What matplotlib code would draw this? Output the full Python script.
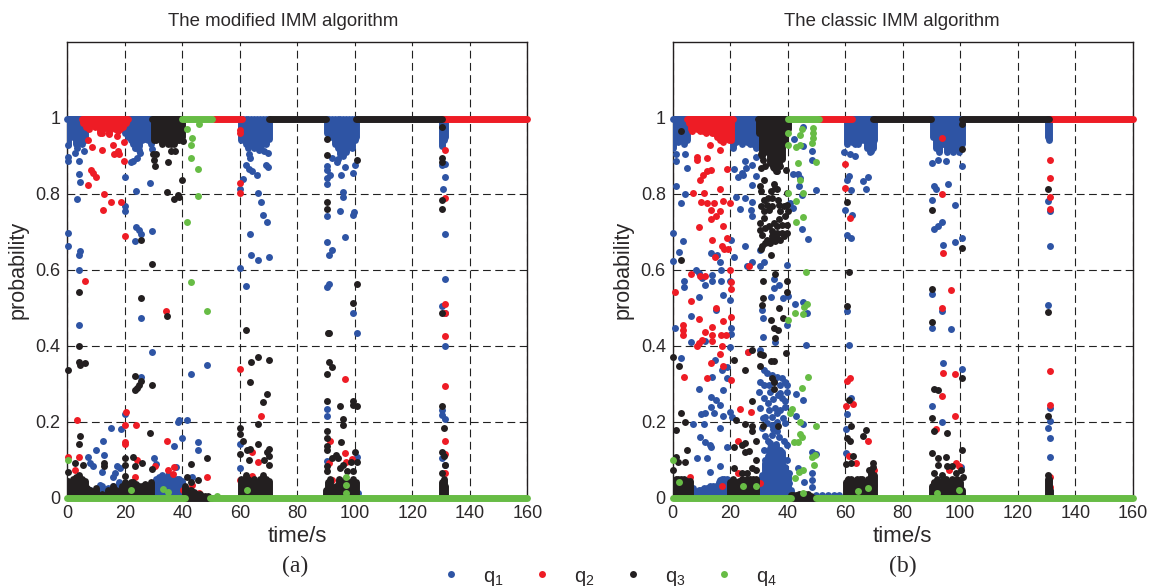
import matplotlib
matplotlib.use("Agg")
import matplotlib.pyplot as plt
from matplotlib.lines import Line2D
import numpy as np

plt.rcParams['font.family'] = ['Liberation Sans', 'DejaVu Sans']
plt.rcParams['mathtext.default'] = 'regular'

BLUE = '#2E54A4'
RED = '#EE1C25'
BLACK = '#231F20'
GREEN = '#67BC45'
TEXT = '#2B2829'

# scattered points (time, probability)
# panel (a)
a_q1 = [(.2,.929),(.2,.896),(.2,.887),(2.7,.907),(3.5,.92),(5.8,.911),(4,.887),(4,.852),(4.4,.831),(3.5,.785),
        (.2,.696),(.2,.661),(4.4,.648),(4,.638),(4,.598),(20.2,.845),(20.2,.768),(20.2,.754),(24,.806),(28.6,.827),
        (24,.711),(24.9,.703),(25.8,.694),(23.5,.676),(29.5,.701),(22,.883),(23,.887),(24.2,.894),(25.3,.907),
        (23.6,.92),(24.8,.916),(29.5,.918),(60.2,.813),(61.2,.838),(62.1,.876),(63.1,.866),(64.3,.859),(66,.848),
        (63.7,.894),(63.1,.903),(66.6,.916),(68.4,.911),(69.9,.907),(69,.876),(69.9,.869),(66.3,.802),(67.2,.777),
        (68.1,.743),(69.5,.725),(63.5,.694),(64,.638),(66.3,.626),(70,.633),(60.2,.605),(62.1,.556),
        (4,.454),(25.8,.472),(29.5,.382),(25.8,.318),(43,.325),(48.6,.349),(20.2,.219),(15.1,.184),(18.8,.181),
        (12.3,.149),(10,.125),(7.2,.107),(12.8,.111),(7.9,.09),(9.1,.083),(11.9,.068),(30,.104),(30.9,.089),
        (37,.136),(39.8,.156),(38.8,.204),(38.4,.198),(41.6,.205),(45.3,.146),(45.3,.125),(37.9,.08),(17.4,.083),
        (18.4,.077),(16.6,.064),(16,.055),(11.4,.033),(43.3,.055),(60.2,.142),(60.2,.079),
        (90.5,.824),(91.4,.848),(90.5,.841),(90.5,.861),(90.5,.872),(95.1,.848),(96.5,.869),(99.3,.854),(100.1,.876),
        (91.9,.894),(93.7,.883),(94.2,.89),(96,.803),(96,.791),(99.3,.743),(99.8,.752),(94.7,.754),(90.5,.742),
        (96.5,.686),(90.5,.672),(91.9,.651),(91,.638),(91,.563),(90.5,.553),(131.2,.844),(130.8,.812),(131.2,.693),
        (131.2,.574),(130.4,.504),(131.2,.879),(130.4,.875),(99.3,.487),(100.7,.434),(90.5,.234),(90.5,.216),
        (90.5,.097),(100.9,.108),(131.4,.399),(130.5,.231),(130.5,.217),(131.2,.206),(130.5,.104),(131.2,.086),
        (131.2,.487),(101,.013)]
a_q2 = [(7.3,.942),(8.5,.922),(12,.914),(16,.929),(19.8,.935),(17.2,.951),(12,.96),(14.5,.957),(17.8,.911),
        (16.4,.904),(18.1,.903),(19.8,.887),(8.1,.861),(9.1,.853),(10,.844),(7.2,.823),(12.8,.798),(15.1,.777),
        (18.8,.777),(12.3,.756),(20.2,.689),(6.3,.57),(60.2,.968),(60.2,.96),(60.2,.828),(60.2,.802),(34.4,.49),
        (.2,.108),(3.5,.205),(4,.107),(20.5,.226),(20.2,.191),(20.2,.147),(20.2,.14),(24,.191),(24.4,.099),
        (34.7,.149),(23.5,.055),(30.5,.083),(37,.08),(36.7,.062),(35.1,.073),(48.6,.055),(60.2,.339),(67.2,.216),
        (64.4,.121),(66.3,.094),(40.2,.02),(43.4,.033),(45.7,.012),(64.3,.058),(2.7,.073),(60.2,.046),
        (131.3,.914),(131.3,.788),(131.3,.51),(96.5,.311),(96.5,.118),(91.4,.149),(90.9,.09),(97,.093),(99.1,.101),
        (131.4,.424),(131.2,.485),(131.4,.293),(131.4,.149),(131.4,.114),(131.4,.064),(92.2,.046)]
a_q3 = [(29.9,.903),(30.9,.903),(30,.889),(30.5,.872),(35.1,.883),(36,.913),(37.6,.913),(40.2,.938),(39.8,.837),
        (34.7,.805),(37,.785),(38.4,.797),(38.8,.79),(25.8,.679),(29.5,.616),(25.8,.525),(4,.542),
        (4,.399),(.2,.336),(4,.356),(4.4,.349),(6.3,.354),(23.5,.321),(25.8,.307),(24.9,.296),(24.2,.288),(23.7,.282),
        (29.5,.296),(34.7,.479),(4.4,.163),(4,.142),(28.6,.17),(43,.089),(48.6,.104),(20.2,.104),(20.2,.086),(23,.108),
        (23.6,.082),(25.9,.09),(29.5,.075),(60.2,.184),(60.2,.167),(60.2,.114),(61.2,.149),(62.1,.44),(63.5,.304),
        (64,.356),(66.3,.37),(70,.363),(69.5,.272),(68.1,.251),(66.3,.195),(66.3,.142),(70,.128),(69.5,.121),(70,.11),
        (62.6,.125),(63.7,.128),(63.1,.099),(68.4,.099),(70,.086),(2.7,.09),(5.3,.086),(12.6,.09),(12.6,.083),(.3,.068),
        (20.2,.058),(41.6,.055),(43,.042),(45.3,.046),
        (100.7,.889),(90.5,.901),(90.5,.943),(90.5,.777),(90.5,.76),(100.7,.563),(99.3,.511),(130.4,.975),(130.4,.894),
        (130.4,.882),(130.4,.782),(130.4,.76),(90.7,.432),(91,.432),(90.9,.356),(91.9,.345),(90.5,.325),(90.5,.255),
        (94.7,.24),(99.3,.255),(99.3,.244),(100.7,.24),(96,.207),(96,.191),(90.5,.174),(90.5,.156),(95.1,.146),
        (90.5,.136),(90.5,.124),(100.2,.121),(91.9,.104),(93.5,.111),(94.2,.104),(96,.086),(98.8,.095),(100.7,.095),
        (90.5,.083),(90.5,.07),(94.7,.077),(97.4,.071),(99.5,.071),(130.5,.487),(130.5,.24),(130.9,.184),(130.5,.121),
        (130.9,.11),(131.4,.086),(130.5,.065)]
a_q4 = [(41.6,.971),(45.8,.982),(43.4,.946),(43,.929),(43,.894),(45.3,.865),(45.3,.795),(41.6,.725),(43,.567),
        (48.6,.49),(.2,.099),(22,.02),(33.3,.023),(35,.016),(62.6,.02),(52,.004),(97,.055),(97,.033),(97,.012)]

# panel (b)
b_q1 = [(.2,.696),(.2,.623),(1.2,.819),(2.9,.774),(4.4,.799),(4.9,.868),(4.4,.904),(1.2,.903),(1.2,.885),(3.7,.676),
        (2.1,.647),(4,.569),(4,.553),(9,.529),(8.1,.598),(9.3,.591),(10.1,.578),(11.3,.56),(13.6,.587),(13.6,.569),
        (13.3,.644),(15.3,.638),(16.5,.62),(16.9,.598),(16.9,.57),(17.4,.532),(20,.521),(20.2,.679),(21.2,.633),(20,.569),
        (21.2,.865),(22.6,.844),(24,.854),(25.3,.885),(25.6,.868),(27.6,.875),(24.4,.85),(29.1,.896),(29,.847),(27.7,.823),
        (22.1,.791),(25.3,.788),(27.7,.777),(23.5,.76),(27.2,.756),(27.7,.742),(25.3,.661),(27.7,.619),(25.8,.609),
        (30.5,.651),(31.7,.619),(30.5,.609),(35.1,.574),(35.1,.552),(36.9,.56),(34.2,.528),(38.4,.524),(39.8,.612),(40,.53),
        (42.3,.945),(45.3,.975),(45.3,.925),(48.6,.911),(48.6,.889),(41.9,.852),(43.5,.852),(44.4,.841),(44,.819),(44.9,.797),
        (50,.809),(40.9,.775),(41.9,.762),(44.9,.708),(47.2,.68),(42.6,.51),(45.3,.514),
        (59.5,.91),(61.6,.903),(63.5,.9),(61.3,.846),(60.7,.837),(61.9,.809),(66.3,.834),(68.1,.844),(67.2,.812),(60.1,.756),
        (62.4,.745),(60.5,.69),(61.9,.682),(68.8,.911),(68.8,.92),
        (.7,.447),(6.3,.479),(3,.367),(6.3,.409),(15.1,.494),(20.2,.447),(20.2,.431),(20,.397),(11.4,.413),(14.8,.362),
        (13.7,.318),(17,.336),(18.8,.343),(18.8,.314),(17.4,.283),(9.1,.286),(13.3,.265),(15.1,.257),(16.5,.244),(13.3,.239),
        (10,.219),(11.4,.222),(14.2,.222),(17.4,.215),(19.8,.224),(20.7,.213),(7.2,.195),(10.9,.195),(16.5,.184),(9.5,.16),
        (11.4,.146),(12.8,.139),(13.3,.134),(18.8,.132),(8.6,.105),(11.9,.104),(12.8,.068),(16.5,.083),(16.5,.046),(17.7,.042),
        (19.1,.046),(26.3,.384),(31.2,.494),(31.4,.473),(31.4,.423),(30.5,.389),(35.6,.409),(39.8,.454),(46.3,.402),(46.7,.487),
        (43,.272),(45.3,.258),(43,.216),(45.3,.195),(43.5,.079),(48.6,.121),(50,.115),(48.6,.064),(45.6,.042),(48.6,.046),
        (48.6,.029),(60.7,.491),(61.2,.402),(61.9,.261),(60.7,.219),(60.2,.181),(60.2,.118),
        # swarm 30-40 s
        (31.6,.336),(32.8,.327),(34.5,.323),(36.3,.318),(38,.314),(39.2,.305),(30.5,.305),(31.6,.296),(33.4,.296),(35.1,.305),
        (37.4,.296),(39.8,.296),(29.9,.279),(31.6,.261),(34,.279),(37.4,.275),(39.8,.279),(38,.261),(39.2,.253),(30.5,.235),
        (33.4,.231),(35.7,.235),(37.4,.231),(39.2,.239),(32.2,.213),(34.5,.213),(36.3,.222),(32.8,.196),(34.5,.191),(36.3,.2),
        (31,.182),(32.2,.161),(34.5,.165),(36.3,.174),(39.2,.196),(34,.143),(35.7,.134),(37.4,.125),(39.8,.139),(31.6,.125),
        (34.5,.117),(36.3,.108),(38,.104),(32.2,.099),(34,.086),(36.3,.086),(39.8,.099),(32.8,.068),(35.7,.068),(38,.073),
        (40.3,.064),(31,.055),(34,.046),(36.3,.042),(38.6,.042),(32.2,.033),(35.1,.029),(37.4,.029),(40.3,.038),
        (33,.15),(35,.18),(37,.16),(38.4,.21),(35,.26),(33,.25),(36.5,.27),(33.5,.12),(37,.09),(35,.1),(31.5,.21),(38.8,.15),
        # 90-131 s
        (90.3,.881),(92.2,.889),(95,.886),(100.6,.872),(95.6,.826),(90.8,.819),(91.7,.812),(90.3,.784),(98.3,.77),(93.6,.725),
        (92.2,.714),(90.8,.707),(100.6,.682),(98.3,.672),(94.1,.665),(90.3,.535),(130.5,.781),(131.3,.753),(131.3,.661),
        (130.5,.507),(93.6,.492),(90.3,.447),(96.9,.444),(94.1,.353),(100.6,.339),(90.3,.24),(93.6,.198),(100.2,.08),
        (131.3,.237),(131.3,.202),(130.5,.184),(131.3,.156),(131.3,.107)]
b_q2 = [(6.6,.964),(12.8,.929),(16.5,.914),(8.6,.896),(8.6,.889),(11.9,.893),(18.8,.865),(9.5,.837),(10.5,.85),(11.9,.859),
        (13.3,.862),(7.2,.802),(10.9,.802),(16.5,.812),(10,.777),(11.9,.774),(14.2,.774),(17.4,.781),(20,.774),(13.3,.756),
        (16.5,.753),(15.1,.742),(13.3,.732),(9.1,.711),(17.4,.714),(13.7,.679),(18.8,.682),(17,.661),(17.7,.653),(19.1,.654),
        (14.7,.633),(20,.598),(26.6,.609),(6.3,.588),(9.5,.584),(11.4,.584),(20.2,.567),(20.2,.549),(.7,.542),(6.3,.518),
        (15.1,.499),(60,.879),(60,.816),(61.6,.736),
        (3.7,.453),(3.7,.441),(3.7,.428),(9.1,.469),(17.4,.465),(13.7,.45),(11.3,.437),(13.7,.428),(13.7,.412),(8.4,.399),
        (9.1,.406),(10.1,.415),(16.9,.428),(18.6,.428),(20.2,.476),(17,.399),(16.5,.378),(17.4,.346),(13.3,.354),(11.9,.315),
        (4,.318),(20.2,.31),(26.3,.382),(23.5,.234),(27.2,.226),(22.6,.149),(17,.03),(22.6,.064),(30.5,.038),(60.2,.24),
        (60.7,.307),(61.6,.314),(62.6,.247),(68.1,.149),(61.3,.11),(63.6,.092),(70,.033),(70,.073),(6,.055),
        (93.6,.946),(93.6,.798),(94.1,.644),(96.9,.546),(93.6,.5),(131.3,.889),(131.3,.84),(131.3,.791),(131.3,.76),
        (94.1,.328),(98.3,.325),(93.6,.268),(98.3,.216),(91.7,.181),(131.3,.332),(131.3,.244),(98.5,.09),(96.2,.073),
        (99.7,.082),(131.3,.055),(131.3,.029),(90.9,.038)]
b_q3 = [(2.9,.964),(2.9,.626),(34.2,.638),(35.6,.588),(31.4,.57),(39.8,.57),(39.8,.542),(31.4,.525),(31,.508),(36.9,.499),
        (60.7,.777),(61.2,.595),(60.7,.504),
        # swarm 30-40 s
        (30.7,.903),(31.4,.889),(32.2,.872),(30.7,.868),(31.9,.837),(35.1,.868),(36.3,.859),(37.4,.872),(39.5,.861),(35.1,.825),
        (35.6,.815),(30.5,.819),(30.7,.806),(34.2,.806),(36.3,.811),(33,.789),(31.9,.784),(34.5,.789),(36.5,.784),(39.8,.802),
        (32.8,.771),(34.5,.767),(36.9,.771),(38.6,.767),(39.8,.771),(30.7,.767),(31.6,.754),(33.4,.758),(37.4,.754),(39.2,.74),
        (40,.754),(30.5,.723),(31.6,.736),(36.9,.732),(35.1,.723),(33.4,.714),(34.5,.701),(36.3,.714),(38,.718),(39.8,.718),
        (30.5,.705),(31,.692),(32.2,.71),(34.5,.688),(36.3,.696),(38,.696),(39.8,.696),(32.8,.679),(34.5,.679),(36.3,.683),
        (38.6,.688),(31,.661),(32.2,.67),(34,.67),(35.7,.675),(37.4,.679),(30.7,.653),
        # low part
        (0,.371),(2.1,.346),(3,.223),(4.4,.198),(1.2,.177),(4.9,.125),(4.4,.093),(1.2,.108),(.2,.073),(2,.095),(21.2,.363),
        (25.3,.335),(27.7,.254),(22.1,.205),(25.3,.195),(27.7,.188),(27.7,.174),(21.2,.132),(25.3,.143),(24.1,.139),(25.2,.121),
        (26.4,.123),(29.1,.149),(29.1,.1),(27.6,.389),(30.5,.377),(31.4,.374),(30.5,.346),(34.2,.468),(35.1,.447),(36.5,.44),
        (35.6,.419),(38.4,.472),(39.5,.381),(34.2,.36),(35.1,.36),(34.5,.314),(35.1,.305),(35.1,.286),(31.4,.188),(36.5,.188),
        (21.2,.079),(24.1,.066),(25.8,.066),(27.6,.077),(29.1,.073),(61.3,.258),(62.1,.188),(60.7,.156),(61.6,.149),(60.2,.089),
        (61.9,.09),(62.6,.11),(67.2,.177),(66.3,.163),(69.5,.09),(69.5,.08),(68.3,.073),
        # 90-131 s
        (100.6,.918),(100.6,.984),(90.3,.756),(100.6,.658),(90.3,.549),(130.5,.812),(90.3,.461),(130.5,.489),(100.6,.314),
        (90.8,.286),(92.2,.282),(90.3,.209),(130.5,.216),(90.8,.174),(95.5,.17),(90.3,.118),(92.2,.104),(95,.107),(100.6,.125),
        (92.2,.086),(95.5,.082),(97.3,.082),(100.2,.073),(90.9,.064),(93.8,.06),(98.5,.064),(100.8,.055),(130.5,.06),(131,.046)]
b_q4 = [(40.2,.96),(44.9,.971),(44.4,.955),(48.8,.973),(48.8,.96),(48.8,.946),(48.6,.932),(40.2,.929),(43,.922),(44.4,.929),
        (43.5,.88),(50,.883),(44.4,.837),(40.2,.802),(45.3,.802),(43,.781),(45.3,.739),(43,.725),(46.3,.595),(46.7,.51),(45.8,.501),
        (0,.098),(2.1,.04),(40.2,.468),(42.6,.487),(45.3,.482),(47.2,.318),(44.9,.289),(41.6,.233),(40.7,.223),(44.4,.198),
        (50,.188),(44.4,.167),(44.9,.16),(42.1,.146),(43.5,.146),(48.6,.107),(49.5,.111),(49.1,.086),(44,.068),(45.3,.073),
        (42.6,.051),(45.3,.012),(24.4,.03),(29.1,.03),(64.4,.017),(68.1,.026),(99.7,.019),(92.1,.011)]

# dense clouds at the top: (time, lowest probability of the cloud)
a_q1_top = [(.2,.93),(1,.955),(2,.95),(3,.93),(4,.935),(5,.93),(6,.94),(7,.97),(8,.985),(20,.96),(21,.95),(22,.94),(23,.93),
            (24,.93),(25,.925),(26,.94),(27,.945),(28,.94),(29,.93),
            (60.5,.94),(61,.95),(62,.93),(63,.92),(64,.93),(65,.92),(66,.93),(67,.92),(68,.93),(69,.93),(70,.945),
            (90.5,.96),(91,.95),(92,.95),(93,.93),(94,.92),(95,.905),(96,.9),(97,.91),(98,.93),(99,.92),(100,.94),(100.5,.95),
            (130.5,.925),(131,.94),(131.3,.95)]
a_q2_top = [(5.5,.985),(6.5,.975),(7.5,.97),(8.5,.985),(9.5,.975),(10.5,.98),(11.5,.96),(12.5,.97),(13.5,.985),(14.5,.96),
            (15.5,.98),(16.5,.97),(17.5,.965),(18.5,.97),(19.5,.975),(20.5,.985)]
a_q3_top = [(30,.94),(31,.94),(32,.96),(33,.93),(34,.95),(35,.93),(36,.93),(37,.93),(38,.94),(39,.94),(40,.95)]
b_q1_top = [(.2,.92),(1,.94),(2,.935),(3,.945),(4,.93),(5,.94),(6,.97),(20,.95),(21,.92),(22,.935),(23,.95),(24,.93),(25,.94),
            (26,.935),(27,.93),(28,.93),(29,.92),(30,.93),
            (60.5,.93),(61.5,.94),(62.5,.935),(63.5,.93),(64.5,.93),(65.5,.94),(66.5,.94),(67.5,.92),(68.5,.91),(69.5,.92),(70,.94),
            (90.5,.95),(91.5,.92),(92.5,.91),(93.5,.93),(94.5,.93),(95.5,.91),(96.5,.92),(97.5,.91),(98.5,.92),(99.5,.91),(100.5,.93),
            (130.5,.95),(131,.94)]
b_q2_top = [(5.5,.985),(6.5,.97),(7.5,.975),(8.5,.97),(9.5,.965),(10.5,.965),(11.5,.96),(12.5,.965),(13.5,.96),(14.5,.96),
            (15.5,.95),(16.5,.94),(17.5,.935),(18.5,.95),(19.5,.94),(20.3,.94)]
b_q3_top = [(30,.96),(31,.9),(32,.91),(33,.93),(34,.88),(35,.87),(36,.86),(37,.88),(38,.89),(39,.93),(40,.97)]

# dense clouds at the bottom: (time, highest probability of the cloud)
a_q1_low = [(8,.02),(10,.02),(12,.03),(14,.025),(16,.03),(18,.04),(30,.04),(31,.05),(32,.055),(33,.06),(34,.05),(35,.06),
            (36,.055),(37,.05),(38,.05),(39,.05),(40,.045),(41,.02)]
a_q3_low = [(.3,.045),(1,.03),(2,.05),(3,.055),(4,.06),(5,.05),(6,.045),(7,.025),(8,.02),(9,.01),(10,.025),(12,.01),(14,.02),
            (16,.03),(17,.02),(19,.03),(20,.04),(21,.035),(22,.04),(23,.04),(24,.035),(25,.03),(26,.03),(27,.035),(28,.03),(29,.04),
            (41,.03),(42,.02),(43,.02),(44,.015),(45,.01),(46,.01),(47,.005),(48,.005),(49,.005),
            (60.3,.05),(61,.04),(62,.06),(63,.05),(64,.045),(65,.05),(66,.04),(67,.05),(68,.06),(69,.05),(70,.045),
            (90,.02),(90.7,.04),(91.5,.05),(92.5,.025),(93.5,.03),(94.5,.05),(95.5,.04),(96.5,.05),(97.5,.04),(98.5,.04),(99.5,.05),(100.5,.04),
            (130.3,.04),(130.9,.05),(131.3,.03)]
b_q1_low = [(7,.025),(8,.015),(9,.02),(10,.02),(11,.025),(12,.025),(13,.03),(14,.03),(15,.03),(16,.04),(17,.05),(18,.05),(19,.05),
            (30,.04),(31,.06),(32,.09),(33,.11),(34,.13),(35,.12),(36,.14),(37,.1),(38,.12),(39,.08),(40,.06),(41,.02),
            (50,.006),(52,.006),(54,.006),(56,.006),(58,.006)]
b_q3_low = [(.3,.04),(1,.05),(2,.05),(3,.05),(4,.05),(5,.045),(6,.045),(20,.04),(21,.05),(22,.04),(23,.045),(24,.05),(25,.045),
            (26,.05),(27,.05),(28,.05),(29,.05),(41,.008),(42,.008),(43,.008),(44,.01),(45,.01),(46,.01),(47,.01),(48,.005),
            (60.3,.04),(61,.05),(62,.05),(63,.045),(64,.05),(65,.05),(66,.05),(67,.04),(68,.05),(69,.07),(70,.06),
            (90.2,.03),(91,.04),(92,.05),(93,.04),(94,.05),(95,.05),(96,.04),(97,.05),(98,.04),(99,.05),(100,.04),(100.7,.02),
            (130.4,.05),(130.9,.05),(131.2,.02)]

# thin bands where one model holds: (start, end)
a_top_q1 = [(0, 30)]
a_top_q2 = [(5, 21), (51, 60.8), (130.5, 160)]
a_top_q3 = [(29.5, 40), (70, 90), (100.5, 130.5)]
a_top_q4 = [(40, 50.5)]
b_top_q1 = [(0, 30), (60.5, 70), (90, 100)]
b_top_q2 = [(5, 21), (51, 62.5), (131, 160)]
b_top_q3 = [(29.5, 40), (69.5, 90), (100.5, 131)]
b_top_q4 = [(40, 51)]
a_zero_q3 = [(41, 50)]
a_zero_q4 = [(0, 41), (49.5, 160)]
b_zero_q3 = [(41, 50)]
b_zero_q4 = [(0, 41), (50, 160)]

TOP = 0.997
DOT = 5.0


def draw_panel(ax, title, title_x, q1, q2, q3, q4, top, zero, q1_top, q2_top, q3_top, q1_low, q3_low):
    colors = [BLUE, RED, BLACK, GREEN]
    for i, (pts, c) in enumerate(zip([q1, q2, q3, q4], colors)):
        t, p = np.array(pts).T
        ax.scatter(t, p, s=DOT**2, color=c, linewidths=0, zorder=3 + i, clip_on=False)
        for t0, t1 in top[i]:
            ax.plot([t0, t1], [TOP, TOP], color=c, lw=DOT, solid_capstyle='round', zorder=3 + i, clip_on=False)
    for t0, t1 in zero[0]:
        ax.plot([t0, t1], [0, 0], color=BLACK, lw=DOT, solid_capstyle='round', zorder=5, clip_on=False)
    for t0, t1 in zero[1]:
        ax.plot([t0, t1], [0, 0], color=GREEN, lw=DOT, solid_capstyle='round', zorder=6, clip_on=False)

    # dense clouds as columns of overlapping dots
    for pts, c, z in [(q1_top, BLUE, 3), (q2_top, RED, 4), (q3_top, BLACK, 5)]:
        t, low = np.array(pts).T
        ax.vlines(t, low, TOP, color=c, lw=DOT, capstyle='round', zorder=z)
    for pts, c, z in [(q1_low, BLUE, 3), (q3_low, BLACK, 5)]:
        t, high = np.array(pts).T
        ax.vlines(t, 0, high, color=c, lw=DOT, capstyle='round', zorder=z)

    ax.set_xlim(0, 160)
    ax.set_ylim(0, 1.2)
    ax.set_xticks(range(0, 161, 20))
    ax.set_yticks([0, 0.2, 0.4, 0.6, 0.8, 1])
    ax.set_yticklabels(['0', '0.2', '0.4', '0.6', '0.8', '1'])
    ax.tick_params(length=0, labelsize=13, labelcolor=TEXT, pad=5)
    ax.grid(True, color='#222222', lw=0.8, linestyle=(0, (7, 4)))
    ax.set_axisbelow(True)
    for s in ax.spines.values():
        s.set_color(BLACK)
        s.set_linewidth(1.0)
    ax.set_title(title, fontsize=13.4, color=TEXT, pad=11, x=title_x)
    ax.set_xlabel('time/s', fontsize=16, color=TEXT, labelpad=3)
    ax.set_ylabel('probability', fontsize=15.5, color=TEXT, labelpad=5)


W, H = 1149, 587
fig = plt.figure(figsize=(W / 100, H / 100), dpi=100)
ax_a = fig.add_axes([67.3 / W, 1 - 497.6 / H, 460 / W, 456 / H])
ax_b = fig.add_axes([672.7 / W, 1 - 497.6 / H, 460 / W, 456 / H])

draw_panel(ax_a, 'The modified IMM algorithm', (283 - 67.3) / 460, a_q1, a_q2, a_q3, a_q4,
           [a_top_q1, a_top_q2, a_top_q3, a_top_q4], [a_zero_q3, a_zero_q4],
           a_q1_top, a_q2_top, a_q3_top, a_q1_low, a_q3_low)
draw_panel(ax_b, 'The classic IMM algorithm', (892 - 672.7) / 460, b_q1, b_q2, b_q3, b_q4,
           [b_top_q1, b_top_q2, b_top_q3, b_top_q4], [b_zero_q3, b_zero_q4],
           b_q1_top, b_q2_top, b_q3_top, b_q1_low, b_q3_low)

fig.text(295 / W, 1 - 566 / H, '(a)', family='Liberation Serif', fontsize=17, color=TEXT, ha='center', va='center')
fig.text(903 / W, 1 - 566 / H, '(b)', family='Liberation Serif', fontsize=17, color=TEXT, ha='center', va='center')

handles = [Line2D([], [], linestyle='none', marker='o', markersize=5, markeredgewidth=0, color=c)
           for c in [BLUE, RED, BLACK, GREEN]]
fig.legend(handles, ['q$_1$', 'q$_2$', 'q$_3$', 'q$_4$'], ncol=4, frameon=False, fontsize=14.5,
           labelcolor=TEXT, loc='center', bbox_to_anchor=(606 / W, 1 - 577 / H),
           handletextpad=0.8, columnspacing=1.1, handlelength=1.6)

fig.savefig('out.png', dpi=100)
